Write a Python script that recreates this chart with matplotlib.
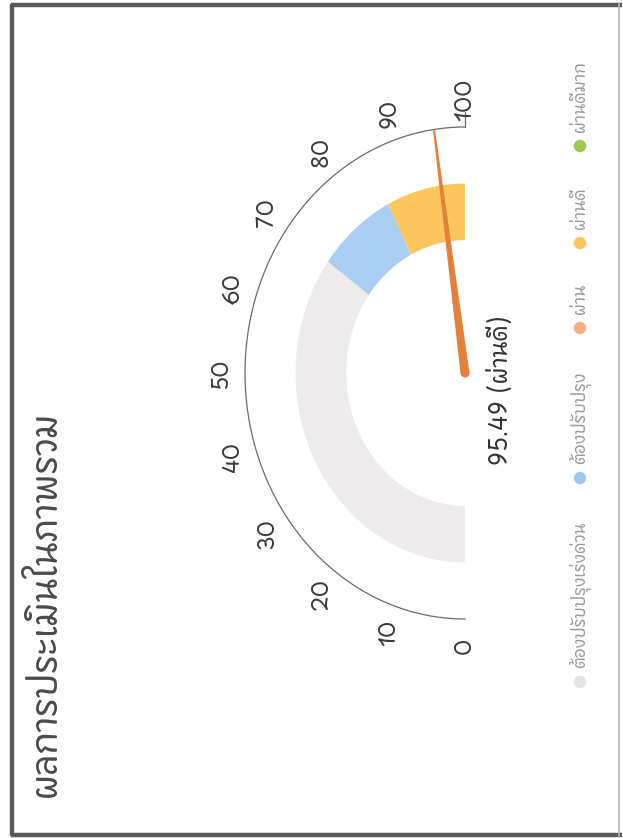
import numpy as np
import matplotlib
matplotlib.use("Agg")
import matplotlib.pyplot as plt
from matplotlib import font_manager as fm
from matplotlib.ft2font import FT2Font
from matplotlib.patches import Polygon, Ellipse

# ---------------- data ----------------
title = "ผลการประเมินในภาพรวม"
score = 95.49
score_label = "ผ่านดี"
tick_values = [0, 10, 20, 30, 40, 50, 60, 70, 80, 90, 100]
band_edges = [0, 70, 85, 100]
band_colors = ["#EDEBEB", "#A9CDF3", "#FDC65C"]
legend_labels = ["ต้องปรับปรุงเร่งด่วน", "ต้องปรับปรุง", "ผ่าน", "ผ่านดี", "ผ่านดีมาก"]
legend_colors = ["#E4E4E4", "#A0C8F0", "#F7B183", "#FDC65C", "#9BCB4C"]
scale_min, scale_max = 0, 100

# ---------------- font with Thai glyphs ----------------
def find_thai_family():
    found = []
    for f in fm.fontManager.ttflist:
        try:
            cm = FT2Font(f.fname).get_charmap()
        except Exception:
            continue
        if 0x0E1C in cm and 0x0E48 in cm:
            found.append(f.name)
    if not found:
        return None
    def score_name(n):
        s = 0
        if "Looped" in n: s += 5
        if "Serif" in n: s += 3
        if "UI" in n: s += 1
        if "Sans" in n: s -= 1
        return s
    return sorted(set(found), key=score_name)[0]

thai = find_thai_family()
families = ([thai] if thai else []) + ["DejaVu Sans"]
plt.rcParams["font.family"] = families

W, H = 623, 838
fig = plt.figure(figsize=(W / 100, H / 100), dpi=100)
fig.patch.set_facecolor("white")

# ---------------- gauge axes (center at px 465,373; unit r: 220 px x, 246 px y) ----------------
cx, cy = 465, 373
sx, sy = 220.0, 246.0
px_l, px_r, px_t, px_b = 180, 560, 60, 700
ax = fig.add_axes([px_l / W, 1 - px_b / H, (px_r - px_l) / W, (px_b - px_t) / H])
ax.set_xlim((px_l - cx) / sx, (px_r - cx) / sx)
ax.set_ylim((cy - px_b) / sy, (cy - px_t) / sy)
ax.set_aspect("auto")
ax.axis("off")

def theta(v):
    return np.deg2rad(270 - 180.0 * (v - scale_min) / (scale_max - scale_min))

r_in, r_out = 0.54, 0.77
for lo, hi, col in zip(band_edges[:-1], band_edges[1:], band_colors):
    t = theta(np.linspace(lo, hi, 80))
    xs = np.concatenate([r_out * np.cos(t), r_in * np.cos(t[::-1])])
    ys = np.concatenate([r_out * np.sin(t), r_in * np.sin(t[::-1])])
    ax.add_patch(Polygon(np.column_stack([xs, ys]), closed=True, facecolor=col,
                         edgecolor="none", zorder=2))

# scale arc
t = theta(np.linspace(scale_min, scale_max, 300))
ax.plot(np.cos(t), np.sin(t), color="#6a6a6a", lw=0.9, zorder=3)
te = theta(scale_max)
ax.plot([np.cos(te), 1.06 * np.cos(te)], [np.sin(te), 1.06 * np.sin(te)],
        color="#6a6a6a", lw=0.9, zorder=3)

# tick labels
for v in tick_values:
    tv = theta(v)
    ax.text(1.11 * np.cos(tv), 1.11 * np.sin(tv), str(v), rotation=90,
            ha="center", va="center", fontsize=16, color="#3a3a3a", zorder=4)

# needle
tn = theta(score)
d = np.array([np.cos(tn) * sx, np.sin(tn) * sy])
d /= np.hypot(*d)
p = np.array([-d[1], d[0]])
base_hw, tip_hw, L = 4.5, 1.0, 1.0
tip = np.array([L * np.cos(tn), L * np.sin(tn)])
pts = np.array([
    [p[0] * base_hw / sx, p[1] * base_hw / sy],
    [tip[0] + p[0] * tip_hw / sx, tip[1] + p[1] * tip_hw / sy],
    [tip[0] - p[0] * tip_hw / sx, tip[1] - p[1] * tip_hw / sy],
    [-p[0] * base_hw / sx, -p[1] * base_hw / sy],
])
needle_col = "#E5803A"
ax.add_patch(Polygon(pts, closed=True, facecolor=needle_col, edgecolor="none", zorder=5))
ax.add_patch(Ellipse((0, 0), 9 / sx, 9 / sy, facecolor=needle_col, edgecolor="none", zorder=5))

# value label
ax.text(37 / sx, -17 / sy, f"{score:.2f} ({score_label})", rotation=90,
        ha="center", va="center", fontsize=17, color="#333333", zorder=6)

# ---------------- overlay for title, legend and frame (pixel layout) ----------------
ov = fig.add_axes([0, 0, 1, 1], zorder=-1)
ov.set_xlim(0, W)
ov.set_ylim(H, 0)
ov.axis("off")

ov.text(46, 797, title, rotation=90, ha="center", va="bottom",
        fontsize=25.5, color="#4a4a4a")

legend_y = [682, 478, 328, 243, 146]
for lab, col, yy in zip(legend_labels, legend_colors, legend_y):
    ov.scatter([580], [yy], s=80, color=col, edgecolors="none")
    ov.text(580, yy - 14, lab, rotation=90, ha="center", va="bottom",
            fontsize=12, color="#9a9a9a")

# scanned frame
ov.plot([12, 12], [4, 836], color="#5a5a5a", lw=3.2, solid_capstyle="butt")
ov.plot([11, 622], [5, 5], color="#5a5a5a", lw=3.2, solid_capstyle="butt")
ov.plot([11, 622], [835, 835], color="#5a5a5a", lw=3.2, solid_capstyle="butt")
ov.plot([619, 619], [4, 836], color="#b5b5b5", lw=1.2)

fig.savefig("out.png", dpi=100, facecolor="white")
